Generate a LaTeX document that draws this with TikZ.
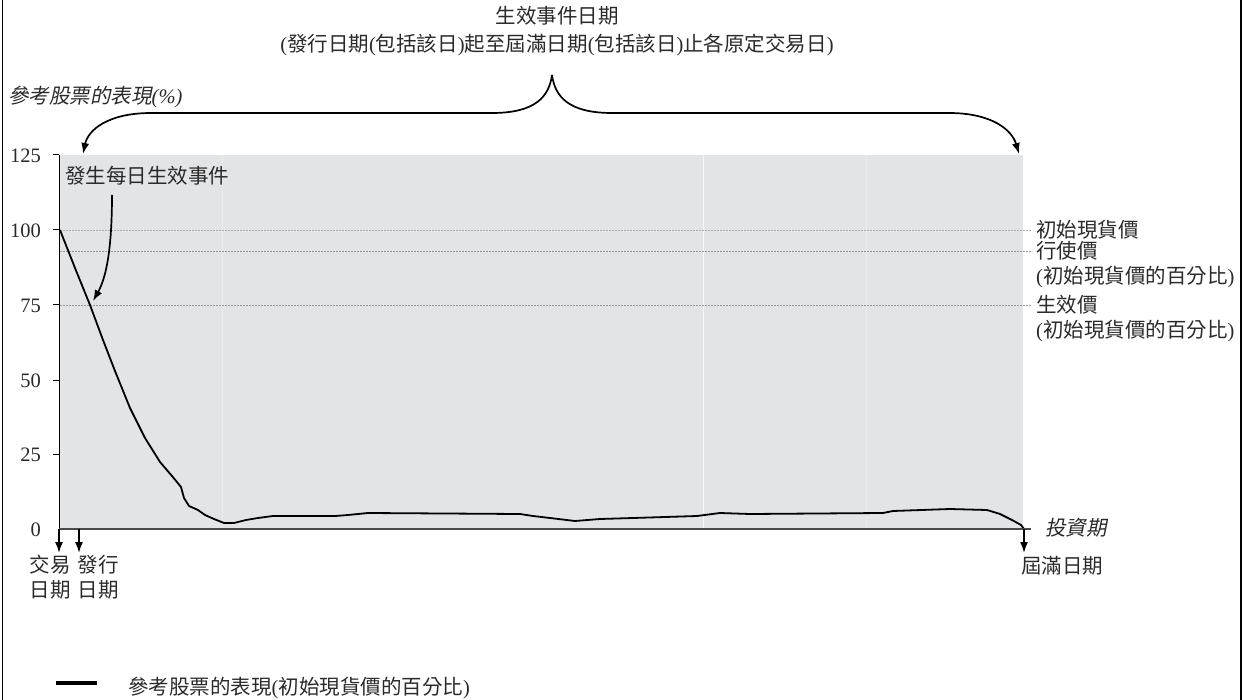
\documentclass[tikz,border=0pt]{standalone}
\usepackage{fontspec}
\setmainfont{Liberation Serif}
\newfontfamily\zhfont{Noto Sans CJK TC}
\newfontfamily\zhitfont[FakeSlant=0.2]{Noto Sans CJK TC}
\newcommand{\zh}[1]{{\zhfont #1}}
\newcommand{\zhit}[1]{{\zhitfont #1}}
\usetikzlibrary{arrows.meta}
\definecolor{plotbg}{HTML}{E3E4E6}
\definecolor{axisgray}{HTML}{4A4A4A}
\definecolor{txtgray}{HTML}{2A2A2A}
\tikzset{
  lbl/.style={inner sep=0pt, text=txtgray, font=\fontsize{20.5}{25}\selectfont},
  lbllines/.style={lbl, align=left},
  tipline/.style={line width=1.7pt, -{Latex[length=11pt,width=8pt]}},
  refline/.style={line width=0.6pt, color=gray!80, dash pattern=on 2pt off 1pt},
  perf/.style={line width=1.8pt, black, line join=round},
}
\begin{document}
\begin{tikzpicture}[x=1pt,y=-1pt]
\useasboundingbox (0,0) rectangle (1244,700);
% frame
\draw[line width=1.6pt] (2.5,0) -- (2.5,700);
\draw[line width=1.6pt] (1241,0) -- (1241,700);
% plot background
\fill[plotbg] (60,155) rectangle (1023,529);
\draw[white!70!plotbg, line width=0.8pt] (703,155) -- (703,529);
\draw[white!25!plotbg, line width=0.6pt] (866,155) -- (866,529);
\draw[white!25!plotbg, line width=0.6pt] (222,155) -- (222,529);
% reference lines
\coordinate (r100a) at (60,230);  \coordinate (r100b) at (1032,230);
\coordinate (r93a) at (60,251);   \coordinate (r93b) at (1032,251);
\coordinate (r75a) at (60,305);   \coordinate (r75b) at (1032,305);
\draw[refline, color=gray!65] (r100a) -- (r100b);
\draw[refline] (r93a) -- (r93b);
\draw[refline] (r75a) -- (r75b);
% axes
\coordinate (yaxtop) at (59,155);
\coordinate (origin) at (59,529);
\coordinate (xend) at (1031,529);
\draw[line width=1pt] (yaxtop) -- (origin);
\foreach \v/\yy in {125/155,100/230,75/305,50/380,25/454} {
  \draw[line width=1pt] (53,\yy) -- (59,\yy);
  \node[lbl, anchor=east] (tick\v) at (41,\yy+1) {\v};
}
\node[lbl, anchor=east] (tick0) at (41,530) {0};
% performance curve
\draw[perf] plot coordinates {(60,230) (75,268) (90,305) (103,340) (115,371) (130,408) (145,438) (160,462) (172,476) (181,487) (184,498) (189,506) (198,510) (205,515) (214,519) (224,523) (234,523) (246,520) (258,518) (273,516) (335,516) (348,515) (368,513) (520,514) (533,516) (550,518) (575,521) (600,519) (633,518) (697,516) (720,513) (750,514) (883,513) (893,511) (950,509) (987,510) (1000,514) (1012,520) (1021,525) (1024,529)};
\draw[axisgray, line width=2.5pt] (origin) -- (xend);
% axis labels
\node[lbl, anchor=west] (ytitle) at (8,97) {\zhit{參考股票的表現}\textit{(\%)}};
\node[lbl, anchor=west] (xtitle) at (1045,528) {\zhit{投資期}};
% right labels
\node[lbl, anchor=west] (spot) at (1036,230) {\zh{初始現貨價}};
\node[lbllines, anchor=north west] (strike) at (1036,241) {\zh{行使價}\\(\zh{初始現貨價的百分比})};
\node[lbllines, anchor=north west] (trig) at (1036,295) {\zh{生效價}\\(\zh{初始現貨價的百分比})};
% title
\node[lbl, align=center, anchor=north] (title) at (557,6) {\zh{生效事件日期}\\[3pt](\zh{發行日期}(\zh{包括該日})\zh{起至屆滿日期}(\zh{包括該日})\zh{止各原定交易日})};
% brace arrows
\coordinate (peak) at (552,75);
\coordinate (ltip) at (83,154);
\coordinate (rtip) at (1019,154);
\draw[tipline] (peak) .. controls (549,97) and (535,113) .. (492,113) -- (151,113) .. controls (108,113) and (88,130) .. (ltip);
\draw[tipline] (peak) .. controls (555,97) and (569,113) .. (612,113) -- (949,113) .. controls (992,113) and (1012,130) .. (rtip);
% daily trigger event
\node[lbl, anchor=west] (event) at (65,176) {\zh{發生每日生效事件}};
\coordinate (evs) at (112,195);
\coordinate (eve) at (93,301);
\draw[tipline] (evs) .. controls (112,250) and (106,278) .. (eve);
% date arrows
\coordinate (tdB) at (59,553);
\coordinate (idA) at (79,529);
\coordinate (idB) at (79,553);
\coordinate (mdA) at (1024,529);
\coordinate (mdB) at (1024,553);
\draw[tipline] (origin) -- (tdB);
\draw[tipline] (idA) -- (idB);
\draw[tipline] (mdA) -- (mdB);
\node[lbllines, align=center, anchor=north] (trade) at (50,555) {\zh{交易}\\\zh{日期}};
\node[lbllines, align=center, anchor=north] (issue) at (98,555) {\zh{發行}\\\zh{日期}};
\node[lbl, anchor=north] (mature) at (1062,556) {\zh{屆滿日期}};
% legend
\coordinate (lga) at (56,683);
\coordinate (lgb) at (97,683);
\draw[line width=4pt] (lga) -- (lgb);
\node[lbl, anchor=west] (legend) at (128,688) {\zh{參考股票的表現}(\zh{初始現貨價的百分比})};
\end{tikzpicture}
\end{document}
